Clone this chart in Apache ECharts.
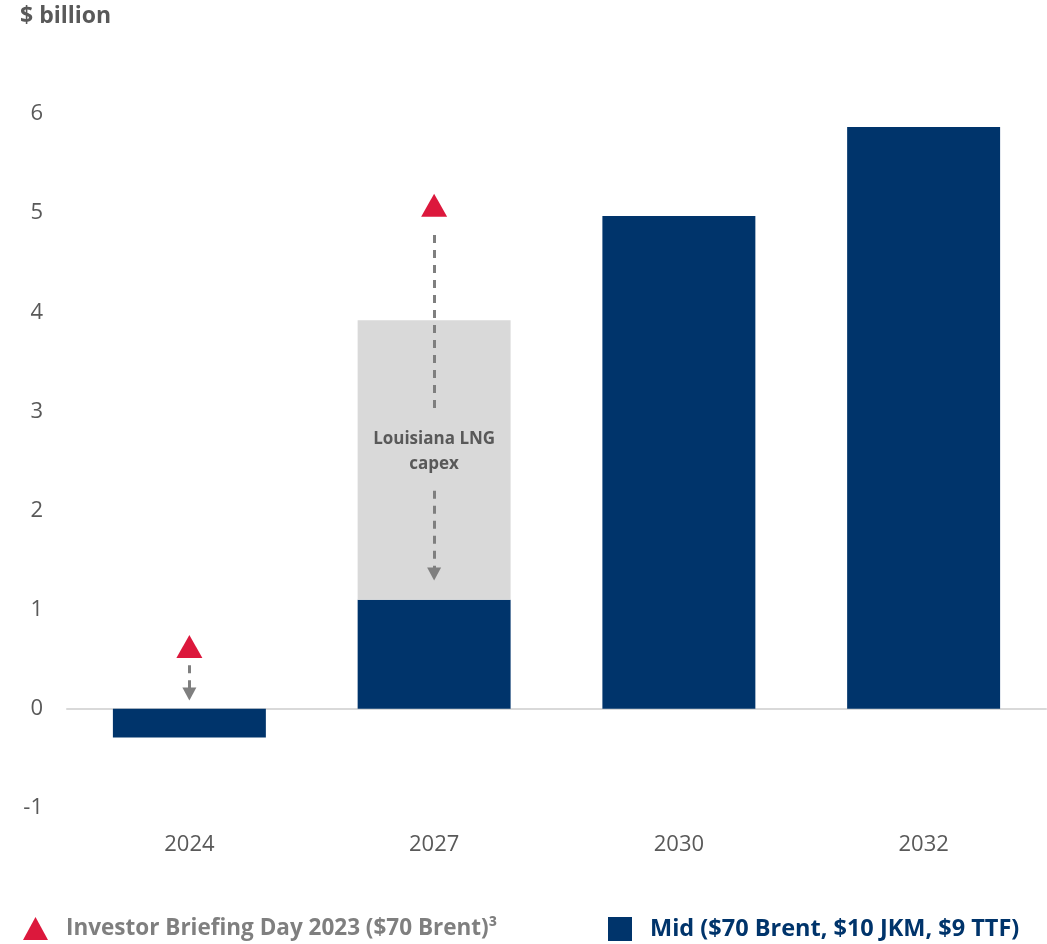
<!DOCTYPE html>
<html>
<head>
<meta charset="utf-8">
<script src="https://cdn.jsdelivr.net/npm/echarts@6/dist/echarts.min.js"></script>
<style>
  html, body { margin: 0; padding: 0; background: #fff; }
  #chart { width: 1047px; height: 944px; }
</style>
</head>
<body>
<div id="chart"></div>
<script>
  // values
  var years = ['2024', '2027', '2030', '2032'];
  var midValues = [-0.29, 1.1, 4.97, 5.87];
  var capexValues = ['-', 2.82, '-', '-'];
  var briefingValues = [0.63, 5.08, '-', '-'];
  var yTicks = [-1, 0, 1, 2, 3, 4, 5, 6];
  // dashed arrows: [year, from, to, has arrow head]
  var arrowSegments = [
    ['2024', 0.44, 0.15, true],
    ['2027', 4.78, 3.02, false],
    ['2027', 2.2, 1.36, true]
  ];

  var navy = '#00346b';
  var red = '#dc183c';
  var grey = '#7f7f7f';
  var font = '"Open Sans", "Noto Sans", sans-serif';

  var arrowData = arrowSegments.map(function (s) {
    var sym = s[3] ? 'triangle' : 'none';
    return [
      { coord: [s[0], s[1]], symbol: 'none' },
      { coord: [s[0], s[2]], symbol: sym }
    ];
  });

  var chart = echarts.init(document.getElementById('chart'));
  var option = {
    animation: false,
    textStyle: { fontFamily: font },
    title: {
      text: '$ billion',
      left: 15, top: 0,
      textStyle: { fontFamily: font, fontSize: 23, fontWeight: 'bold', color: '#595959' }
    },
    grid: { left: 67, right: 1, top: 114, bottom: 136 },
    legend: [
      {
        left: 18, top: 912,
        itemWidth: 25, itemHeight: 23,
        data: [{ name: 'Investor Briefing Day 2023 ($70 Brent)³', icon: 'triangle', itemStyle: { color: red, opacity: 1 } }],
        textStyle: { fontFamily: font, fontSize: 22.5, fontWeight: 'bold', color: grey, padding: [0, 0, 0, 13] }
      },
      {
        left: 603, top: 912,
        itemWidth: 24, itemHeight: 24,
        data: [{ name: 'Mid ($70 Brent, $10 JKM, $9 TTF)', icon: 'rect' }],
        textStyle: { fontFamily: font, fontSize: 23.5, fontWeight: 'bold', color: navy, padding: [0, 0, 0, 13] }
      }
    ],
    xAxis: {
      type: 'category',
      data: years,
      axisLine: { show: true, onZero: true, lineStyle: { color: '#d9d9d9', width: 2 } },
      axisTick: { show: false },
      axisLabel: {
        position: 'bottom',
        margin: 26,
        fontFamily: font, fontSize: 22, color: '#595959'
      }
    },
    yAxis: {
      type: 'value',
      min: yTicks[0], max: yTicks[yTicks.length - 1], interval: 1,
      axisLine: { show: false },
      axisTick: { show: false },
      splitLine: { show: false },
      axisLabel: { margin: 24, fontFamily: font, fontSize: 22, color: '#595959' }
    },
    series: [
      {
        name: 'Mid ($70 Brent, $10 JKM, $9 TTF)',
        type: 'bar',
        stack: 'total',
        barWidth: '62.5%',
        itemStyle: { color: navy },
        data: midValues
      },
      {
        name: 'Louisiana LNG capex',
        type: 'bar',
        stack: 'total',
        itemStyle: { color: '#d9d9d9' },
        label: {
          show: true,
          position: 'inside',
          offset: [0, -8],
          formatter: 'Louisiana LNG\ncapex',
          fontFamily: font, fontSize: 17, fontWeight: 'bold',
          color: '#595959', lineHeight: 25
        },
        data: capexValues
      },
      {
        name: 'Investor Briefing Day 2023 ($70 Brent)³',
        type: 'scatter',
        symbol: 'triangle',
        symbolSize: [26, 23],
        itemStyle: { color: red, opacity: 1 },
        z: 5,
        data: briefingValues,
        markLine: {
          silent: true,
          symbolSize: [14, 13],
          label: { show: false },
          lineStyle: { color: grey, type: [8, 7], width: 3 },
          itemStyle: { color: grey },
          data: arrowData
        }
      }
    ]
  };
  chart.setOption(option);
</script>
</body>
</html>
